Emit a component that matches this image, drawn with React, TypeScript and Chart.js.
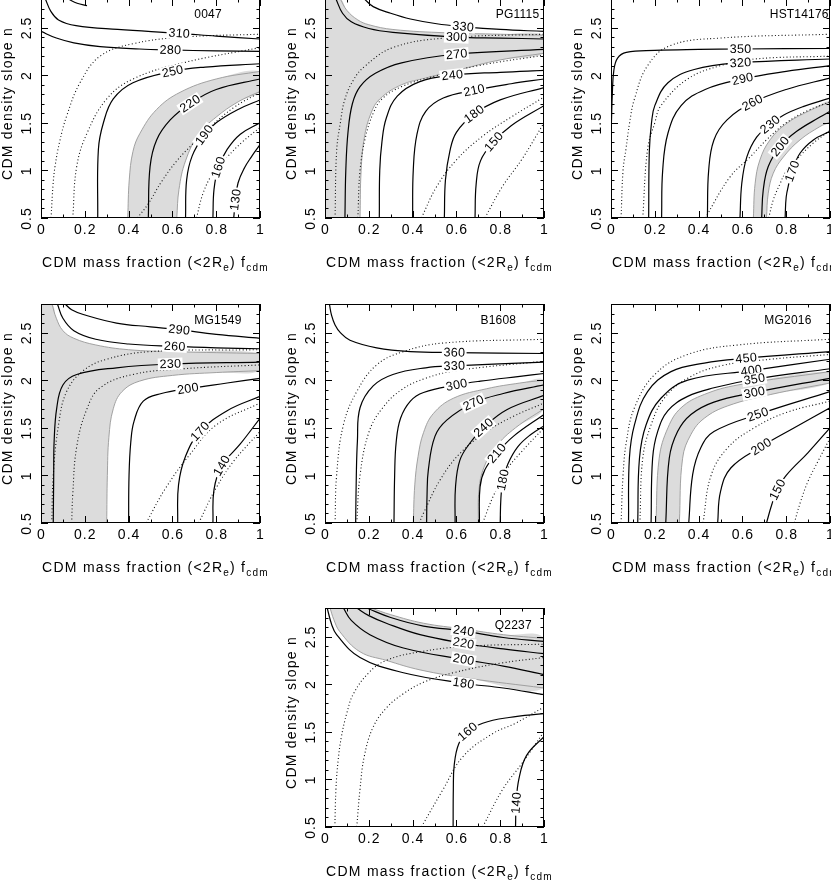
import React, { useEffect, useRef } from 'react';
import { Chart, registerables } from 'chart.js';

Chart.register(...registerables);

type P = [number, number];

// axis values shared by every panel
const xTicks = [0, 0.2, 0.4, 0.6, 0.8, 1];
const yTicks = [0.5, 1, 1.5, 2, 2.5];
const xRange: P = [0, 1];
const yRange: P = [0.5, 2.8];

// ---------- 0047 ----------
const a340: P[] = [[0.125, 2.8], [0.165, 2.755], [0.21, 2.73]];
const a310: P[] = [[0.02, 2.8], [0.045, 2.67], [0.08, 2.58], [0.16, 2.52], [0.35, 2.48], [0.63, 2.44], [0.8, 2.41], [1, 2.38]];
const a280: P[] = [[0, 2.46], [0.07, 2.39], [0.15, 2.34], [0.27, 2.3], [0.45, 2.275], [0.59, 2.265], [0.8, 2.255], [1, 2.25]];
const a250: P[] = [[0.259, 0.5], [0.262, 1.22], [0.285, 1.5], [0.33, 1.75], [0.42, 1.92], [0.6, 2.04], [0.75, 2.085], [1, 2.12]];
const a220: P[] = [[0.49, 0.5], [0.498, 1.04], [0.528, 1.32], [0.59, 1.53], [0.68, 1.7], [0.8, 1.85], [1, 1.96]];
const a190: P[] = [[0.66, 0.5], [0.665, 0.9], [0.69, 1.15], [0.745, 1.37], [0.8, 1.5], [0.9, 1.64], [1, 1.74]];
const a160: P[] = [[0.785, 0.5], [0.79, 0.8], [0.81, 1.03], [0.85, 1.22], [0.91, 1.38], [1, 1.5]];
const a130: P[] = [[0.88, 0.5], [0.888, 0.69], [0.9, 0.87], [0.93, 1.03], [0.96, 1.14], [1, 1.27]];
const aDot1: P[] = [[0.046, 0.5], [0.055, 0.85], [0.064, 1.04], [0.085, 1.3], [0.117, 1.57], [0.178, 1.92], [0.27, 2.2], [0.42, 2.33], [0.65, 2.4], [1, 2.43]];
const aDot2: P[] = [[0.145, 0.5], [0.163, 1.04], [0.21, 1.39], [0.3, 1.75], [0.42, 1.96], [0.65, 2.13], [1, 2.29]];
const aDot3: P[] = [[0.44, 0.5], [0.49, 0.65], [0.55, 0.88], [0.62, 1.1], [0.69, 1.27], [0.77, 1.45], [0.88, 1.66], [1, 1.82]];
const aDot4: P[] = [[0.71, 0.5], [0.74, 0.76], [0.785, 0.97], [0.85, 1.14], [0.92, 1.3], [1, 1.45]];
const aEdgeHi: P[] = [[0.396, 0.5], [0.403, 0.9], [0.42, 1.2], [0.452, 1.39], [0.528, 1.64], [0.635, 1.82], [0.8, 1.96], [1, 2.04]];
const aEdgeLo: P[] = [[0.62, 0.5], [0.63, 0.8], [0.66, 1.1], [0.72, 1.38], [0.8, 1.56], [0.9, 1.72], [1, 1.83]];

// ---------- PG1115 ----------
const b330: P[] = [[0.18, 2.8], [0.22, 2.72], [0.3, 2.65], [0.39, 2.59], [0.51, 2.54], [0.63, 2.51], [0.8, 2.48], [1, 2.46]];
const b300: P[] = [[0.05, 2.8], [0.08, 2.65], [0.12, 2.56], [0.2, 2.49], [0.31, 2.45], [0.6, 2.4], [0.8, 2.39], [1, 2.38]];
const b270: P[] = [[0.091, 0.5], [0.095, 1.0], [0.105, 1.4], [0.125, 1.7], [0.16, 1.88], [0.23, 2.02], [0.35, 2.13], [0.6, 2.22], [1, 2.27]];
const b240: P[] = [[0.248, 0.5], [0.25, 1.0], [0.26, 1.3], [0.28, 1.55], [0.33, 1.78], [0.43, 1.93], [0.58, 2.0], [0.8, 2.03], [1, 2.05]];
const b210: P[] = [[0.4, 0.5], [0.403, 1.0], [0.42, 1.38], [0.46, 1.62], [0.54, 1.76], [0.68, 1.84], [0.85, 1.91], [1, 1.96]];
const b180: P[] = [[0.545, 0.5], [0.55, 0.9], [0.57, 1.2], [0.6, 1.4], [0.68, 1.59], [0.8, 1.74], [1, 1.87]];
const b150: P[] = [[0.685, 0.5], [0.69, 0.85], [0.71, 1.1], [0.77, 1.3], [0.85, 1.47], [1, 1.68]];
const bDot1: P[] = [[0.046, 0.5], [0.053, 1.2], [0.07, 1.5], [0.09, 1.74], [0.13, 1.95], [0.18, 2.09], [0.31, 2.29], [0.55, 2.39], [1, 2.43]];
const bDot2: P[] = [[0.15, 0.5], [0.16, 1.0], [0.185, 1.35], [0.22, 1.6], [0.26, 1.75], [0.35, 1.88], [0.5, 1.99], [0.7, 2.1], [1, 2.21]];
const bDot3: P[] = [[0.44, 0.5], [0.51, 0.83], [0.6, 1.11], [0.72, 1.36], [0.85, 1.56], [1, 1.77]];
const bDot4: P[] = [[0.73, 0.5], [0.81, 0.83], [0.9, 1.12], [1, 1.5]];
const bEdgeHi: P[] = [[0.07, 2.8], [0.1, 2.68], [0.15, 2.58], [0.2, 2.53], [0.31, 2.48], [0.55, 2.445], [0.8, 2.43], [1, 2.42]];
const bEdgeLo: P[] = [[0.16, 0.5], [0.165, 1.0], [0.18, 1.35], [0.21, 1.6], [0.25, 1.75], [0.35, 1.9], [0.46, 1.97], [0.6, 2.05], [0.8, 2.16], [1, 2.23]];
const bCorner: P[] = [[0, 0.5], [0, 2.8]];

// ---------- HST14176 ----------
const c350: P[] = [[0.002, 1.5], [0.006, 1.8], [0.013, 2.05], [0.03, 2.18], [0.07, 2.24], [0.2, 2.26], [0.4, 2.27], [0.59, 2.275], [1, 2.28]];
const c320: P[] = [[0.172, 0.5], [0.175, 1.2], [0.185, 1.5], [0.2, 1.68], [0.26, 1.92], [0.38, 2.06], [0.59, 2.13], [1, 2.17]];
const c290: P[] = [[0.231, 0.5], [0.236, 1.0], [0.26, 1.39], [0.32, 1.68], [0.43, 1.85], [0.6, 1.96], [0.8, 2.04], [1, 2.1]];
const c260: P[] = [[0.44, 0.5], [0.446, 1.0], [0.47, 1.32], [0.53, 1.53], [0.645, 1.71], [0.8, 1.85], [1, 1.97]];
const c230: P[] = [[0.589, 0.5], [0.597, 0.86], [0.62, 1.14], [0.665, 1.35], [0.726, 1.48], [0.787, 1.58], [0.877, 1.67], [1, 1.76]];
const c200: P[] = [[0.688, 0.5], [0.695, 0.79], [0.718, 1.04], [0.772, 1.25], [0.848, 1.41], [0.954, 1.56], [1, 1.62]];
const c170: P[] = [[0.795, 0.5], [0.8, 0.72], [0.812, 0.86], [0.827, 0.99], [0.863, 1.18], [0.924, 1.32], [1, 1.41]];
const cDot1: P[] = [[0.046, 0.5], [0.055, 1.0], [0.068, 1.22], [0.085, 1.5], [0.107, 1.75], [0.167, 2.1], [0.27, 2.31], [0.5, 2.39], [1, 2.43]];
const cDot2: P[] = [[0.145, 0.5], [0.167, 1.22], [0.2, 1.5], [0.228, 1.68], [0.35, 1.96], [0.5, 2.1], [0.655, 2.17], [1, 2.2]];
const cDot3: P[] = [[0.43, 0.5], [0.543, 0.93], [0.635, 1.14], [0.71, 1.32], [0.8, 1.5], [0.9, 1.63], [1, 1.72]];
const cDot4: P[] = [[0.72, 0.5], [0.741, 0.69], [0.772, 0.86], [0.8, 0.99], [0.85, 1.12], [0.92, 1.28], [1, 1.42]];
const cEdgeHi: P[] = [[0.65, 0.5], [0.658, 0.86], [0.68, 1.11], [0.726, 1.32], [0.8, 1.49], [0.909, 1.63], [1, 1.72]];
const cEdgeLo: P[] = [[0.71, 0.5], [0.718, 0.76], [0.741, 0.97], [0.787, 1.14], [0.863, 1.32], [0.954, 1.46], [1, 1.51]];

// ---------- MG1549 ----------
const d290: P[] = [[0.11, 2.8], [0.14, 2.74], [0.193, 2.69], [0.345, 2.6], [0.5, 2.56], [0.63, 2.53], [0.8, 2.48], [1, 2.44]];
const d260: P[] = [[0.075, 2.8], [0.1, 2.65], [0.15, 2.52], [0.25, 2.43], [0.4, 2.38], [0.61, 2.355], [0.8, 2.34], [1, 2.33]];
const d230: P[] = [[0.056, 0.5], [0.058, 1.0], [0.06, 1.36], [0.072, 1.71], [0.1, 1.95], [0.163, 2.06], [0.345, 2.13], [0.59, 2.17], [1, 2.19]];
const d200: P[] = [[0.4, 0.5], [0.402, 1.0], [0.41, 1.35], [0.425, 1.57], [0.467, 1.78], [0.55, 1.86], [0.67, 1.91], [0.85, 1.97], [1, 2.02]];
const d170: P[] = [[0.624, 0.5], [0.628, 0.9], [0.66, 1.2], [0.726, 1.46], [0.85, 1.68], [1, 1.83]];
const d140: P[] = [[0.785, 0.5], [0.79, 0.85], [0.825, 1.1], [0.91, 1.33], [1, 1.6]];
const dDot1: P[] = [[0.049, 0.5], [0.056, 1.0], [0.08, 1.53], [0.117, 1.88], [0.193, 2.1], [0.3, 2.22], [0.5, 2.3], [1, 2.32]];
const dDot2: P[] = [[0.14, 0.5], [0.145, 0.8], [0.163, 1.3], [0.21, 1.7], [0.27, 1.92], [0.42, 2.06], [0.65, 2.12], [1, 2.16]];
const dDot3: P[] = [[0.48, 0.5], [0.57, 0.87], [0.68, 1.22], [0.8, 1.53], [1, 1.76]];
const dDot4: P[] = [[0.72, 0.5], [0.8, 0.87], [0.88, 1.15], [1, 1.46]];
const dEdgeHi: P[] = [[0.05, 2.8], [0.07, 2.65], [0.1, 2.52], [0.15, 2.44], [0.25, 2.37], [0.4, 2.32], [0.6, 2.3], [1, 2.28]];
const dEdgeLo: P[] = [[0.3, 0.5], [0.303, 1.0], [0.31, 1.4], [0.33, 1.7], [0.37, 1.88], [0.45, 1.99], [0.6, 2.05], [0.8, 2.08], [1, 2.1]];
const dCorner: P[] = [[0, 0.5], [0, 2.8]];

// ---------- B1608 ----------
const e360: P[] = [[0.02, 2.8], [0.03, 2.68], [0.046, 2.58], [0.07, 2.5], [0.114, 2.42], [0.236, 2.34], [0.39, 2.3], [0.59, 2.29], [1, 2.28]];
const e330: P[] = [[0.14, 0.5], [0.143, 1.0], [0.148, 1.36], [0.16, 1.71], [0.22, 1.94], [0.31, 2.06], [0.46, 2.13], [0.59, 2.15], [1, 2.19]];
const e300: P[] = [[0.315, 0.5], [0.318, 1.0], [0.325, 1.35], [0.345, 1.6], [0.39, 1.78], [0.45, 1.87], [0.6, 1.95], [0.71, 1.99], [0.89, 2.04], [1, 2.07]];
const e270: P[] = [[0.464, 0.5], [0.466, 0.8], [0.472, 1.06], [0.502, 1.41], [0.556, 1.58], [0.677, 1.76], [0.814, 1.86], [1, 1.95]];
const e240: P[] = [[0.594, 0.5], [0.596, 0.88], [0.616, 1.16], [0.662, 1.34], [0.723, 1.5], [0.83, 1.69], [1, 1.84]];
const e210: P[] = [[0.705, 0.5], [0.708, 0.88], [0.73, 1.06], [0.784, 1.23], [0.86, 1.41], [1, 1.64]];
const e180: P[] = [[0.8, 0.5], [0.803, 0.75], [0.812, 0.95], [0.835, 1.12], [0.88, 1.3], [0.94, 1.43], [1, 1.52]];
const eDot1: P[] = [[0.046, 0.5], [0.053, 1.0], [0.084, 1.53], [0.145, 1.88], [0.236, 2.16], [0.358, 2.3], [0.54, 2.39], [1, 2.43]];
const eDot2: P[] = [[0.145, 0.5], [0.16, 1.0], [0.2, 1.45], [0.26, 1.7], [0.35, 1.9], [0.46, 2.02], [0.6, 2.1], [1, 2.2]];
const eDot3: P[] = [[0.43, 0.5], [0.449, 0.6], [0.525, 0.95], [0.616, 1.23], [0.738, 1.46], [0.86, 1.62], [1, 1.76]];
const eDot4: P[] = [[0.72, 0.5], [0.768, 0.78], [0.83, 1.06], [0.89, 1.23], [1, 1.5]];
const eEdgeHi: P[] = [[0.403, 0.5], [0.41, 0.9], [0.425, 1.2], [0.45, 1.45], [0.495, 1.65], [0.586, 1.81], [0.738, 1.91], [0.89, 1.97], [1, 2.0]];
const eEdgeLo: P[] = [[0.7, 0.5], [0.703, 0.85], [0.725, 1.08], [0.78, 1.3], [0.87, 1.5], [1, 1.7]];

// ---------- MG2016 ----------
const f450: P[] = [[0.08, 0.5], [0.084, 1.18], [0.107, 1.53], [0.167, 1.88], [0.274, 2.09], [0.426, 2.18], [0.616, 2.23], [1, 2.3]];
const f400: P[] = [[0.122, 0.5], [0.13, 1.18], [0.16, 1.53], [0.228, 1.81], [0.35, 2.0], [0.64, 2.1], [1, 2.22]];
const f350: P[] = [[0.183, 0.5], [0.19, 1.18], [0.213, 1.46], [0.26, 1.68], [0.35, 1.83], [0.47, 1.92], [0.654, 2.01], [1, 2.12]];
const f300: P[] = [[0.25, 0.5], [0.266, 1.18], [0.304, 1.46], [0.365, 1.64], [0.47, 1.77], [0.654, 1.87], [1, 2.02]];
const f250: P[] = [[0.355, 0.5], [0.373, 1.01], [0.41, 1.29], [0.47, 1.46], [0.67, 1.64], [1, 1.88]];
const f200: P[] = [[0.487, 0.5], [0.5, 0.83], [0.548, 1.08], [0.685, 1.3], [0.837, 1.5], [1, 1.71]];
const f150: P[] = [[0.71, 0.5], [0.735, 0.7], [0.76, 0.85], [0.8, 1.0], [0.9, 1.24], [1, 1.5]];
const fDot1: P[] = [[0.046, 0.5], [0.055, 1.0], [0.07, 1.35], [0.107, 1.71], [0.2, 2.06], [0.35, 2.27], [0.58, 2.37], [1, 2.43]];
const fDot2: P[] = [[0.132, 0.5], [0.145, 1.18], [0.183, 1.53], [0.243, 1.81], [0.35, 2.02], [0.5, 2.15], [0.73, 2.22], [1, 2.27]];
const fDot3: P[] = [[0.42, 0.5], [0.457, 1.0], [0.533, 1.29], [0.654, 1.5], [0.8, 1.66], [1, 1.78]];
const fDot4: P[] = [[0.837, 0.5], [0.865, 0.72], [0.9, 0.94], [0.95, 1.17], [1, 1.39]];
const fEdgeHi: P[] = [[0.205, 0.5], [0.22, 1.18], [0.26, 1.5], [0.32, 1.71], [0.426, 1.85], [0.58, 1.95], [1, 2.09]];
const fEdgeLo: P[] = [[0.312, 0.5], [0.327, 1.18], [0.365, 1.43], [0.426, 1.6], [0.533, 1.73], [0.73, 1.85], [1, 1.97]];

// ---------- Q2237 ----------
const g240: P[] = [[0.19, 2.8], [0.3, 2.7], [0.45, 2.61], [0.632, 2.56], [0.814, 2.49], [1, 2.45]];
const g220: P[] = [[0.145, 2.8], [0.2, 2.72], [0.28, 2.64], [0.434, 2.52], [0.632, 2.43], [0.814, 2.37], [1, 2.32]];
const g200: P[] = [[0.084, 2.8], [0.12, 2.67], [0.205, 2.52], [0.358, 2.38], [0.632, 2.26], [0.814, 2.19], [1, 2.1]];
const g180: P[] = [[0.01, 2.8], [0.03, 2.63], [0.053, 2.52], [0.16, 2.28], [0.358, 2.12], [0.632, 2.01], [0.814, 1.96], [1, 1.89]];
const g160: P[] = [[0.585, 0.5], [0.586, 0.9], [0.59, 1.15], [0.61, 1.37], [0.65, 1.5], [0.72, 1.59], [0.84, 1.65], [1, 1.69]];
const g140: P[] = [[0.87, 0.5], [0.873, 0.75], [0.885, 1.0], [0.92, 1.25], [1, 1.45]];
const gDot1: P[] = [[0.045, 0.5], [0.05, 0.9], [0.06, 1.2], [0.075, 1.45], [0.1, 1.7], [0.13, 1.9], [0.2, 2.12], [0.28, 2.25], [0.434, 2.34], [0.66, 2.4], [1, 2.42]];
const gDot2: P[] = [[0.145, 0.5], [0.16, 0.9], [0.18, 1.25], [0.22, 1.55], [0.28, 1.75], [0.358, 1.9], [0.45, 2.02], [0.586, 2.12], [0.8, 2.22], [1, 2.28]];
const gDot3: P[] = [[0.44, 0.5], [0.538, 0.89], [0.63, 1.24], [0.765, 1.48], [0.87, 1.59], [1, 1.76]];
const gDot4: P[] = [[0.72, 0.5], [0.81, 0.89], [0.9, 1.17], [1, 1.5]];
const gEdgeHi: P[] = [[0.21, 2.8], [0.3, 2.73], [0.45, 2.64], [0.632, 2.58], [0.814, 2.52], [1, 2.48]];
const gEdgeLo: P[] = [[0.023, 2.8], [0.04, 2.68], [0.068, 2.55], [0.16, 2.34], [0.28, 2.25], [0.434, 2.15], [0.66, 2.06], [1, 1.96]];

interface Curve { pts: P[]; level?: string; at?: number }
interface Panel { name: string; nameAt: P; solid: Curve[]; dotted: P[][]; edges: P[][]; band: P[] }

const rev = (pts: P[]) => [...pts].reverse();

const panels: Panel[] = [
  {
    name: '0047', nameAt: [0.7, 2.63],
    solid: [
      { pts: a340 }, { pts: a310, level: '310', at: 5 }, { pts: a280, level: '280', at: 5 },
      { pts: a250, level: '250', at: 5 }, { pts: a220, level: '220', at: 4 }, { pts: a190, level: '190', at: 3 },
      { pts: a160, level: '160', at: 2 }, { pts: a130, level: '130', at: 1 },
    ],
    dotted: [aDot1, aDot2, aDot3, aDot4],
    edges: [aEdgeHi, aEdgeLo],
    band: [...aEdgeHi, ...rev(aEdgeLo)],
  },
  {
    name: 'PG1115', nameAt: [0.78, 2.63],
    solid: [
      { pts: b330, level: '330', at: 5 }, { pts: b300, level: '300', at: 5 }, { pts: b270, level: '270', at: 7 },
      { pts: b240, level: '240', at: 6 }, { pts: b210, level: '210', at: 5 }, { pts: b180, level: '180', at: 4 },
      { pts: b150, level: '150', at: 3 },
    ],
    dotted: [bDot1, bDot2, bDot3, bDot4],
    edges: [bEdgeHi, bEdgeLo],
    band: [...bCorner, ...bEdgeHi, ...rev(bEdgeLo)],
  },
  {
    name: 'HST14176', nameAt: [0.725, 2.64],
    solid: [
      { pts: c350, level: '350', at: 7 }, { pts: c320, level: '320', at: 6 }, { pts: c290, level: '290', at: 5 },
      { pts: c260, level: '260', at: 4 }, { pts: c230, level: '230', at: 4 }, { pts: c200, level: '200', at: 3 },
      { pts: c170, level: '170', at: 3 },
    ],
    dotted: [cDot1, cDot2, cDot3, cDot4],
    edges: [cEdgeHi, cEdgeLo],
    band: [...cEdgeHi, ...rev(cEdgeLo)],
  },
  {
    name: 'MG1549', nameAt: [0.7, 2.62],
    solid: [
      { pts: d290, level: '290', at: 5 }, { pts: d260, level: '260', at: 5 }, { pts: d230, level: '230', at: 7 },
      { pts: d200, level: '200', at: 6 }, { pts: d170, level: '170', at: 3 }, { pts: d140, level: '140', at: 2 },
    ],
    dotted: [dDot1, dDot2, dDot3, dDot4],
    edges: [dEdgeHi, dEdgeLo],
    band: [...dCorner, ...dEdgeHi, ...rev(dEdgeLo)],
  },
  {
    name: 'B1608', nameAt: [0.71, 2.62],
    solid: [
      { pts: e360, level: '360', at: 7 }, { pts: e330, level: '330', at: 7 }, { pts: e300, level: '300', at: 6 },
      { pts: e270, level: '270', at: 5 }, { pts: e240, level: '240', at: 4 }, { pts: e210, level: '210', at: 3 },
      { pts: e180, level: '180', at: 2 },
    ],
    dotted: [eDot1, eDot2, eDot3, eDot4],
    edges: [eEdgeHi, eEdgeLo],
    band: [...eEdgeHi, ...rev(eEdgeLo)],
  },
  {
    name: 'MG2016', nameAt: [0.7, 2.62],
    solid: [
      { pts: f450, level: '450', at: 6 }, { pts: f400, level: '400', at: 5 }, { pts: f350, level: '350', at: 6 },
      { pts: f300, level: '300', at: 5 }, { pts: f250, level: '250', at: 4 }, { pts: f200, level: '200', at: 3 },
      { pts: f150, level: '150', at: 2 },
    ],
    dotted: [fDot1, fDot2, fDot3, fDot4],
    edges: [fEdgeHi, fEdgeLo],
    band: [...fEdgeHi, ...rev(fEdgeLo)],
  },
  {
    name: 'Q2237', nameAt: [0.775, 2.61],
    solid: [
      { pts: g240, level: '240', at: 3 }, { pts: g220, level: '220', at: 4 }, { pts: g200, level: '200', at: 4 },
      { pts: g180, level: '180', at: 5 }, { pts: g160, level: '160', at: 4 }, { pts: g140, level: '140', at: 1 },
    ],
    dotted: [gDot1, gDot2, gDot3, gDot4],
    edges: [gEdgeHi, gEdgeLo],
    band: [...gEdgeHi, ...rev(gEdgeLo)],
  },
];

// page position of each frame (top-left corner of the plot box)
const slots = [
  { left: 41, top: -1 }, { left: 325, top: -1 }, { left: 611, top: -1 },
  { left: 41, top: 304 }, { left: 325, top: 304 }, { left: 611, top: 304 },
  { left: 325, top: 608 },
];

const PAD = { left: 45, top: 10, right: 20, bottom: 60 };
const BOX = 219;
const FONT = '"Liberation Sans", Arial, Helvetica, sans-serif';

const toXY = (pts: P[]) => pts.map(([x, y]) => ({ x, y }));

const pgplot = {
  id: 'pgplot',
  afterDatasetsDraw(chart: any, _args: any, opts: any) {
    const ctx = chart.ctx as CanvasRenderingContext2D;
    ctx.save();
    ctx.font = `12.5px ${FONT}`;
    (ctx as any).letterSpacing = '0.3px';
    ctx.textAlign = 'center';
    ctx.textBaseline = 'middle';
    for (const lb of opts.labels) {
      const pts = chart.getDatasetMeta(lb.ds).data;
      const pt = pts[lb.at];
      let dx = pt.cp2x - pt.cp1x;
      let dy = pt.cp2y - pt.cp1y;
      if (!isFinite(dx) || !isFinite(dy) || (dx === 0 && dy === 0)) {
        dx = pts[lb.at + 1].x - pts[lb.at - 1].x;
        dy = pts[lb.at + 1].y - pts[lb.at - 1].y;
      }
      let ang = Math.atan2(dy, dx);
      if (ang > Math.PI / 2) ang -= Math.PI;
      if (ang < -Math.PI / 2) ang += Math.PI;
      ctx.save();
      ctx.translate(pt.x, pt.y);
      ctx.rotate(ang);
      const w = ctx.measureText(lb.text).width + 3;
      ctx.fillStyle = '#fff';
      ctx.fillRect(-w / 2, -6, w, 12);
      ctx.fillStyle = '#000';
      ctx.fillText(lb.text, 0.3, 0.5);
      ctx.restore();
    }
    ctx.restore();
  },
  afterDraw(chart: any, _args: any, opts: any) {
    const ctx = chart.ctx as CanvasRenderingContext2D;
    const { left, right, top, bottom } = chart.chartArea;
    const xs = chart.scales.x;
    const ys = chart.scales.y;
    ctx.save();
    ctx.strokeStyle = '#000';
    ctx.fillStyle = '#000';
    ctx.lineWidth = 1;
    ctx.strokeRect(left + 0.5, top + 0.5, right - left - 1, bottom - top - 1);

    // inward ticks on all four sides
    ctx.beginPath();
    for (let k = 0; k <= 10; k++) {
      const px = Math.round(xs.getPixelForValue(k / 10)) + 0.5;
      const len = k % 2 === 0 ? 7 : 3.5;
      ctx.moveTo(px, bottom); ctx.lineTo(px, bottom - len);
      ctx.moveTo(px, top); ctx.lineTo(px, top + len);
    }
    for (let k = 5; k <= 28; k++) {
      const py = Math.round(ys.getPixelForValue(k / 10)) + 0.5;
      const len = k % 5 === 0 ? 7 : 3.5;
      ctx.moveTo(left, py); ctx.lineTo(left + len, py);
      ctx.moveTo(right, py); ctx.lineTo(right - len, py);
    }
    ctx.stroke();

    ctx.font = `14px ${FONT}`;
    (ctx as any).letterSpacing = '1px';
    ctx.textAlign = 'center';
    ctx.textBaseline = 'middle';
    for (const v of xTicks) ctx.fillText(String(v), xs.getPixelForValue(v) + 0.5, bottom + 12);
    for (const v of yTicks) {
      ctx.save();
      ctx.translate(left - 14, ys.getPixelForValue(v) + 0.5);
      ctx.rotate(-Math.PI / 2);
      ctx.fillText(String(v), 0, 0);
      ctx.restore();
    }

    // y title
    (ctx as any).letterSpacing = '1.25px';
    ctx.save();
    ctx.translate(left - 33, (top + bottom) / 2 - 5);
    ctx.rotate(-Math.PI / 2);
    ctx.fillText('CDM density slope n', 0, 0);
    ctx.restore();

    // x title with subscripts
    const parts: [string, boolean][] = [['CDM mass fraction (<2R', false], ['e', true], [') f', false], ['cdm', true]];
    const big = `14px ${FONT}`;
    const small = `10px ${FONT}`;
    let total = 0;
    for (const [t, sub] of parts) { ctx.font = sub ? small : big; total += ctx.measureText(t).width; }
    let cx = (left + right) / 2 + 5 - total / 2;
    ctx.textAlign = 'left';
    ctx.textBaseline = 'alphabetic';
    const base = bottom + 49;
    for (const [t, sub] of parts) {
      ctx.font = sub ? small : big;
      ctx.fillText(t, cx, sub ? base + 4 : base);
      cx += ctx.measureText(t).width;
    }

    // panel name
    ctx.font = `12px ${FONT}`;
    (ctx as any).letterSpacing = '0.2px';
    ctx.textBaseline = 'middle';
    ctx.fillText(opts.name, xs.getPixelForValue(opts.nameAt[0]), ys.getPixelForValue(opts.nameAt[1]));
    ctx.restore();
  },
};

function buildDatasets(panel: Panel) {
  const datasets: any[] = [];
  const labels: { text: string; ds: number; at: number }[] = [];
  const common = { showLine: true, pointRadius: 0, tension: 0.4, fill: false };
  datasets.push({ ...common, data: toXY(panel.band), fill: 'shape', backgroundColor: '#dcdcdc', borderWidth: 0, order: 3 });
  for (const e of panel.edges) {
    datasets.push({ ...common, data: toXY(e), borderColor: '#999999', borderWidth: 0.9, order: 2 });
  }
  for (const d of panel.dotted) {
    datasets.push({ ...common, data: toXY(d), borderColor: '#111', borderWidth: 1.1, borderDash: [1, 2.4], order: 1 });
  }
  for (const c of panel.solid) {
    const idx = datasets.length;
    datasets.push({ ...common, data: toXY(c.pts), borderColor: '#000', borderWidth: 1.2, order: 0 });
    if (c.level) labels.push({ text: c.level, ds: idx, at: c.at as number });
  }
  return { datasets, labels };
}

const ContourPanel = ({ panel, slot }: { panel: Panel; slot: { left: number; top: number } }) => {
  const canvasRef = useRef<HTMLCanvasElement | null>(null);

  useEffect(() => {
    if (canvasRef.current === null) return;
    const { datasets, labels } = buildDatasets(panel);
    const chart = new Chart(canvasRef.current, {
      type: 'scatter',
      data: { datasets },
      plugins: [pgplot],
      options: {
        animation: false,
        responsive: false,
        events: [],
        layout: { padding: PAD },
        scales: {
          x: { type: 'linear', min: xRange[0], max: xRange[1], display: false },
          y: { type: 'linear', min: yRange[0], max: yRange[1], display: false },
        },
        plugins: {
          legend: { display: false },
          tooltip: { enabled: false },
          pgplot: { labels, name: panel.name, nameAt: panel.nameAt },
        } as any,
      },
    } as any);
    return () => {
      chart.destroy();
    };
  }, [panel]);

  const w = PAD.left + BOX + PAD.right;
  const h = PAD.top + BOX + PAD.bottom;
  return (
    <canvas
      ref={canvasRef}
      width={w}
      height={h}
      style={{ position: 'absolute', left: slot.left - PAD.left, top: slot.top - PAD.top, width: w, height: h }}
    />
  );
};

export default function App() {
  return (
    <div style={{ position: 'absolute', left: 0, top: 0, width: 831, height: 881, overflow: 'hidden', background: '#fff' }}>
      {panels.map((p, i) => (
        <ContourPanel key={p.name} panel={p} slot={slots[i]} />
      ))}
    </div>
  );
}
